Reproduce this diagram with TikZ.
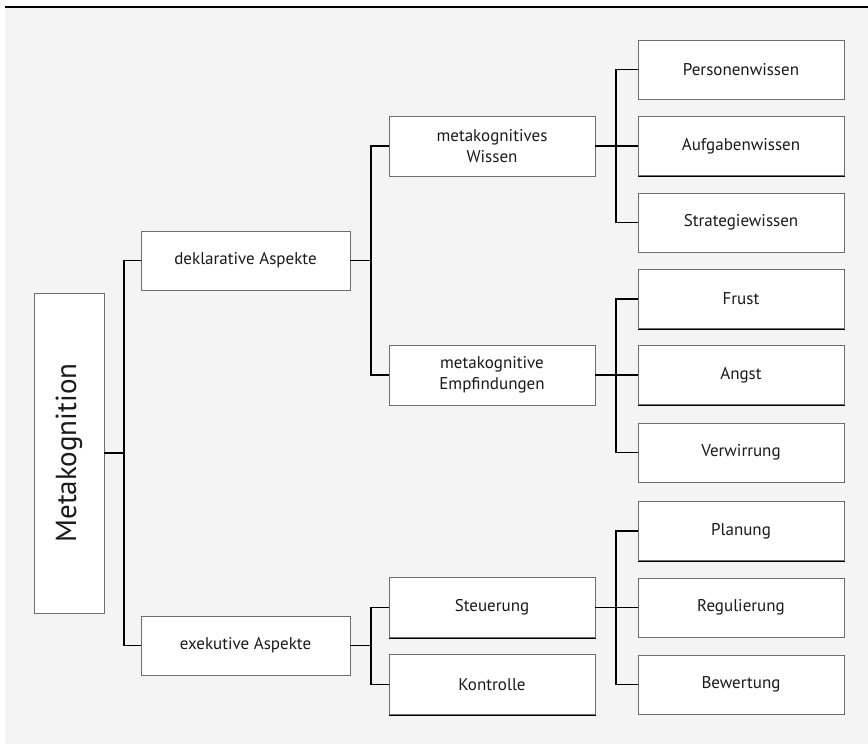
\documentclass[tikz,border=0pt]{standalone}
\usepackage{fontspec}
\setmainfont{PT Sans}
\usetikzlibrary{positioning}
\definecolor{panel}{HTML}{F4F4F4}
\definecolor{rimlight}{HTML}{6E6E6E}
\definecolor{ink}{HTML}{1A1A1A}
\tikzset{
  box/.style={draw=rimlight, fill=white, line width=0.8pt, inner sep=0pt,
    align=center, text=ink, font=\fontsize{17}{21}\selectfont,
    append after command={\pgfextra{\draw[black, line width=0.8pt]
      (\tikzlastnode.north east) -- (\tikzlastnode.south east) -- (\tikzlastnode.south west);}}},
  leftbox/.style={box, minimum width=209pt, minimum height=59pt},
  midbox/.style={box, minimum width=206pt, minimum height=60pt},
  leafbox/.style={box, minimum width=206pt, minimum height=59pt},
  conn/.style={draw=black, line width=1.3pt},
}
\begin{document}
\begin{tikzpicture}[x=1pt, y=-1pt]
  \useasboundingbox (0,0) rectangle (868,744);
  % panel and top rule
  \fill[panel] (5,8) rectangle (868,744);
  \draw[black, line width=1.5pt] (5,7) -- (868,7);

  % root
  \node[box, minimum width=70pt, minimum height=320pt] (meta) at (69,453)
    {\rotatebox{90}{\fontsize{29}{33}\selectfont Metakognition}};

  % first level
  \node[leftbox] (dekl) at (245.5,260.5) {deklarative Aspekte};
  \node[leftbox] (exek) at (245.5,645.5) {exekutive Aspekte};

  % second level
  \node[midbox] (wissen) at (492,146) {metakognitives\\Wissen};
  \node[midbox] (empf) at (492,375) {metakognitive\\Empfindungen};
  \node[midbox] (steu) at (492,607.5) {Steuerung};
  \node[midbox] (kontr) at (492,684.5) {Kontrolle};

  % leaves
  \node[leafbox] (pers) at (741,69.5) {Personenwissen};
  \node[leafbox] (aufg) at (741,146) {Aufgabenwissen};
  \node[leafbox] (strat) at (741,222.5) {Strategiewissen};
  \node[leafbox] (frust) at (741,299) {Frust};
  \node[leafbox] (angst) at (741,375) {Angst};
  \node[leafbox] (verw) at (741,452.5) {Verwirrung};
  \node[leafbox] (plan) at (741,531) {Planung};
  \node[leafbox] (regul) at (741,607.5) {Regulierung};
  \node[leafbox] (bew) at (741,684.5) {Bewertung};

  % junction points of the brackets
  \coordinate (j0) at (124,453);
  \coordinate (j1) at (371,260.5);
  \coordinate (j2) at (371,645.5);
  \coordinate (j3) at (616,146);
  \coordinate (j4) at (616,375);
  \coordinate (j5) at (616,607.5);

  % brackets
  \draw[conn] (meta.east) -- (j0);
  \draw[conn] (dekl.west) -| (j0) |- (exek.west);

  \draw[conn] (dekl.east) -- (j1);
  \draw[conn] (wissen.west) -| (j1) |- (empf.west);

  \draw[conn] (exek.east) -- (j2);
  \draw[conn] (steu.west) -| (j2) |- (kontr.west);

  \draw[conn] (wissen.east) -- (aufg.west);
  \draw[conn] (pers.west) -| (j3) |- (strat.west);

  \draw[conn] (empf.east) -- (angst.west);
  \draw[conn] (frust.west) -| (j4) |- (verw.west);

  \draw[conn] (steu.east) -- (regul.west);
  \draw[conn] (plan.west) -| (j5) |- (bew.west);
\end{tikzpicture}
\end{document}
